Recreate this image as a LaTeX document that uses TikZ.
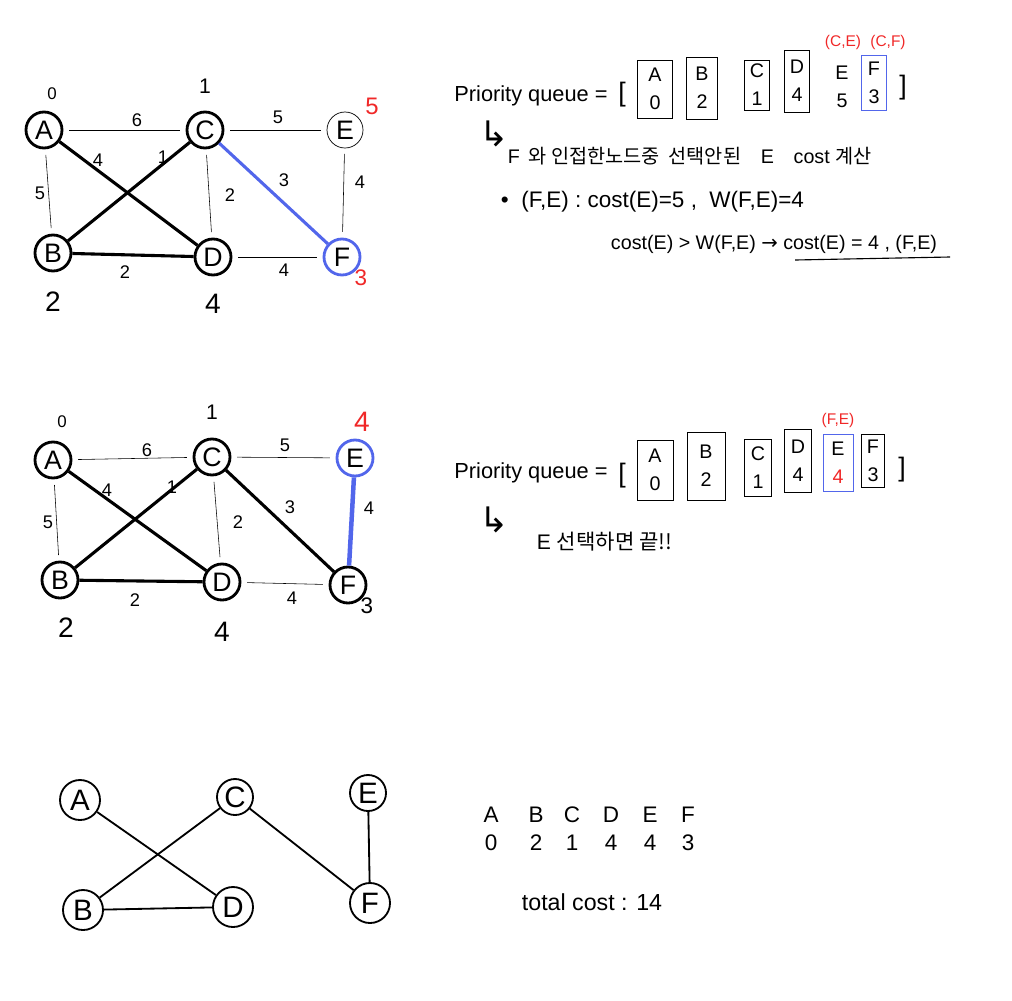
\documentclass[tikz,border=0pt]{standalone}
\usepackage{fontspec}
\setmainfont{Liberation Sans}
\newfontfamily\krfont{Noto Sans CJK KR}
\newfontfamily\symfont{DejaVu Sans}
\definecolor{penblue}{RGB}{82,102,235}
\definecolor{penred}{RGB}{240,40,40}
\newcommand{\fs}[1]{\fontsize{#1}{#1}\selectfont}
\tikzset{
  vtx/.style={circle, draw, line width=2pt, minimum size=0.9cm, inner sep=0pt, font=\fs{19}},
  vtxthin/.style={vtx, line width=0.5pt},
  vtxblue/.style={vtx, draw=penblue},
  vtxfinal/.style={vtx, line width=1.3pt, minimum size=1cm, font=\fs{21}},
  thinedge/.style={line width=0.4pt, shorten <=4pt, shorten >=4pt},
  treeedge/.style={line width=2.2pt},
  newedge/.style={line width=2.2pt, draw=penblue},
  finaledge/.style={line width=1.3pt},
  wlbl/.style={font=\fs{13}},
  costlbl/.style={font=\fs{20}},
  qbox/.style={draw, line width=0.7pt, inner sep=0pt, align=center, font=\fontsize{14}{20}\selectfont},
  qtxt/.style={font=\fs{14}},
  redlbl/.style={text=penred, font=\fs{11}},
}
\begin{document}
\begin{tikzpicture}[x=0.025cm, y=-0.025cm]
\useasboundingbox (0,0) rectangle (1012,1000);

%Graph 1: F chosen
\node[vtx] (a1) at (44,130) {A};
\node[vtx] (c1) at (205,130) {C};
\node[vtxthin] (e1) at (345,130) {E};
\node[vtx] (b1) at (53,253) {B};
\node[vtx] (d1) at (213,257) {D};
\node[vtxblue] (f1) at (342,257) {F};
\draw[thinedge] (a1) -- (c1);
\draw[thinedge] (c1) -- (e1);
\draw[thinedge] (a1) -- (b1);
\draw[thinedge] (c1) -- (d1);
\draw[thinedge] (e1) -- (f1);
\draw[thinedge] (d1) -- (f1);
\draw[treeedge] (a1) -- (d1);
\draw[treeedge] (b1) -- (c1);
\draw[treeedge] (b1) -- (d1);
\draw[newedge] (c1) -- (f1);
\node[wlbl] (w1ac) at (137,120) {6};
\node[wlbl] (w1ce) at (278,117) {5};
\node[wlbl] (w1ab) at (40,193) {5};
\node[wlbl] (w1ad) at (98,160) {4};
\node[wlbl] (w1bc) at (163,157) {1};
\node[wlbl] (w1cd) at (230,195) {2};
\node[wlbl] (w1cf) at (284,180) {3};
\node[wlbl] (w1ef) at (360,182) {4};
\node[wlbl] (w1bd) at (125,272) {2};
\node[wlbl] (w1df) at (284,270) {4};
\node[font=\fs{12}] (k1a) at (52,94) {0};
\node[font=\fs{15}] (k1c) at (205,86) {1};
\node[costlbl, text=penred, font=\fs{17}] (k1e) at (372,106) {5};
\node[costlbl] (k1b) at (53,302) {2};
\node[costlbl] (k1d) at (213,304) {4};
\node[costlbl, text=penred, font=\fs{16}] (k1f) at (361,278) {3};

%Priority queue 1
\node[qtxt, font=\fs{15.5}] (pq1) at (531,96) {Priority queue =};
\node[qtxt, font=\fs{19}] (lb1) at (622,95) {[};
\node[qbox, minimum width=0.875cm, minimum height=1.45cm] (qa1) at (655,89) {A\\0};
\node[qbox, minimum width=0.78cm, minimum height=1.55cm] (qb1) at (702,88) {B\\2};
\node[qbox, minimum width=0.63cm, minimum height=1.25cm] (qc1) at (757,85) {C\\1};
\node[qbox, minimum width=0.63cm, minimum height=1.55cm] (qd1) at (797,81) {D\\4};
\node[qbox, draw=none] (qe1) at (842,87) {E\\5};
\node[qbox, draw=penblue, minimum width=0.63cm, minimum height=1.38cm] (qf1) at (874,83) {F\\3};
\node[qtxt, font=\fs{19}] (rb1) at (903,88) {]};
\node[redlbl] (r1e) at (843,42) {(C,E)};
\node[redlbl] (r1f) at (888,42) {(C,F)};

%Notes 1
\node[font=\symfont\fs{25}] (h1) at (494,134) {↳};
\node[qtxt, anchor=west] (n1) at (503,156) {F\, {\krfont 와 인접한노드중\ \ 선택안된}\quad E\quad cost {\krfont 계산}};
\node[qtxt, font=\fs{16}, anchor=west] (n2) at (496,202) {•\ \ (F,E) : cost(E)=5 ,\ \ W(F,E)=4};
\node[qtxt, anchor=west] (n3) at (606,244) {cost(E) > W(F,E) {\symfont →} cost(E) = 4 , (F,E)};
\draw[line width=0.8pt] (795,260) -- (950,257);

%Graph 2: E chosen
\node[vtx] (a2) at (53,460) {A};
\node[vtx] (c2) at (212,457) {C};
\node[vtxblue] (e2) at (355,458) {E};
\node[vtx] (b2) at (60,580) {B};
\node[vtx] (d2) at (222,582) {D};
\node[vtx] (f2) at (348,585) {F};
\draw[thinedge] (a2) -- (c2);
\draw[thinedge] (c2) -- (e2);
\draw[thinedge] (a2) -- (b2);
\draw[thinedge] (c2) -- (d2);
\draw[thinedge] (d2) -- (f2);
\draw[treeedge] (a2) -- (d2);
\draw[treeedge] (b2) -- (c2);
\draw[treeedge] (b2) -- (d2);
\draw[treeedge] (c2) -- (f2);
\draw[newedge, line width=3.2pt] (e2) -- (f2);
\node[wlbl] (w2ac) at (147,450) {6};
\node[wlbl] (w2ce) at (285,445) {5};
\node[wlbl] (w2ab) at (48,522) {5};
\node[wlbl] (w2ad) at (107,490) {4};
\node[wlbl] (w2bc) at (172,487) {1};
\node[wlbl] (w2cd) at (238,522) {2};
\node[wlbl] (w2cf) at (290,507) {3};
\node[wlbl] (w2ef) at (369,508) {4};
\node[wlbl] (w2bd) at (135,600) {2};
\node[wlbl] (w2df) at (292,598) {4};
\node[font=\fs{12}] (k2a) at (62,422) {0};
\node[font=\fs{15}] (k2c) at (212,412) {1};
\node[costlbl, text=penred] (k2e) at (362,422) {4};
\node[costlbl] (k2b) at (66,628) {2};
\node[costlbl] (k2d) at (222,632) {4};
\node[costlbl, font=\fs{16}] (k2f) at (367,606) {3};

%Priority queue 2
\node[qtxt, font=\fs{15.5}] (pq2) at (531,473) {Priority queue =};
\node[qtxt, font=\fs{19}] (lb2) at (622,476) {[};
\node[qbox, minimum width=0.9cm, minimum height=1.5cm] (qa2) at (655,470) {A\\0};
\node[qbox, minimum width=0.95cm, minimum height=1.7cm] (qb2) at (706,466) {B\\2};
\node[qbox, minimum width=0.68cm, minimum height=1.43cm] (qc2) at (758,468) {C\\1};
\node[qbox, minimum width=0.68cm, minimum height=1.58cm] (qd2) at (798,461) {D\\4};
\node[qbox, draw=penblue, minimum width=0.75cm, minimum height=1.43cm] (qe2) at (838,463) {E\\\textcolor{penred}{4}};
\node[qbox, minimum width=0.58cm, minimum height=1.33cm] (qf2) at (873,461) {F\\3};
\node[qtxt, font=\fs{19}] (rb2) at (902,470) {]};
\node[redlbl] (r2e) at (838,420) {(F,E)};

%Notes 2
\node[font=\symfont\fs{25}] (h2) at (494,520) {↳};
\node[qtxt, font=\fs{15}, anchor=west] (n4) at (532,542) {E {\krfont 선택하면 끝!!}};

%Final tree
\node[vtxfinal] (a3) at (80,800) {A};
\node[vtxfinal, minimum size=0.9cm] (c3) at (235,797) {C};
\node[vtxfinal, minimum size=0.9cm] (e3) at (368,793) {E};
\node[vtxfinal] (b3) at (83,910) {B};
\node[vtxfinal] (d3) at (233,907) {D};
\node[vtxfinal] (f3) at (370,903) {F};
\draw[finaledge] (a3) -- (d3);
\draw[finaledge] (b3) -- (c3);
\draw[finaledge] (b3) -- (d3);
\draw[finaledge] (c3) -- (f3);
\draw[finaledge] (e3) -- (f3);

%Cost table
\foreach \v/\c/\x in {A/0/491, B/2/536, C/1/572, D/4/611, E/4/650, F/3/688}{
  \node[font=\fs{16}] (t\v) at (\x,815) {\v};
  \node[font=\fs{16}] (t\v n) at (\x,843) {\c};
}
\node[font=\fs{16.5}] (tot) at (592,902) {total cost : 14};
\end{tikzpicture}
\end{document}
